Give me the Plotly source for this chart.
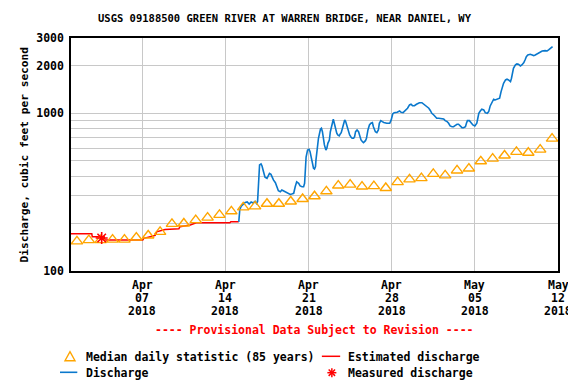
import pandas as pd
import plotly.graph_objects as go

START = pd.Timestamp("2018-04-01 00:00")

# ---- data ----
# Discharge, cubic feet per second; time in hours after 2018-04-01 00:00
discharge_hours = [339, 341, 344, 348, 352, 356, 360, 364, 368, 372, 375, 377, 379, 381, 384, 386, 389, 392, 396, 399,
                   401, 404, 406, 409, 413, 416, 419, 423, 426, 429, 433, 436, 439, 443, 446, 450, 453, 456, 460, 463,
                   467, 470, 472, 473, 475, 478, 481, 483, 485, 487, 490, 492, 494, 495, 498, 500, 504, 506, 508, 510,
                   512, 515, 517, 519, 522, 524, 526, 528, 530, 532, 535, 537, 539, 542, 544, 546, 549, 551, 553, 555,
                   558, 560, 563, 566, 568, 571, 573, 575, 578, 581, 584, 586, 589, 591, 595, 597, 600, 603, 606, 609,
                   611, 615, 618, 621, 623, 626, 629, 632, 638, 644, 647, 650, 653, 659, 664, 667, 671, 675, 680, 684,
                   687, 690, 694, 698, 701, 704, 709, 712, 716, 719, 723, 726, 729, 733, 736, 739, 743, 748, 753, 756,
                   760, 763, 766, 770, 773, 776, 780, 783, 787, 790, 793, 797, 799, 801, 805, 808, 812, 816, 818, 820,
                   822, 824, 827, 830, 834, 837, 841, 844, 847, 851, 854, 857, 861, 864, 866, 869, 871, 874, 878, 881,
                   884, 888, 890, 892, 894, 898, 901, 904, 908, 911, 915, 918, 920, 923, 928, 932, 935, 938, 942, 945,
                   948, 952, 958, 962, 965, 967, 970, 973]
discharge_cfs = [205, 244, 258, 266, 272, 274, 266, 274, 270, 276, 268, 276, 378, 470, 477, 463, 426, 393, 387, 406,
                 416, 410, 396, 378, 363, 342, 323, 318, 326, 323, 318, 316, 311, 306, 308, 311, 342, 368, 360, 346,
                 342, 342, 360, 437, 528, 585, 591, 571, 531, 493, 448, 443, 459, 506, 600, 694, 792, 803, 764, 677,
                 630, 585, 600, 645, 677, 764, 822, 898, 916, 864, 764, 747, 728, 718, 739, 753, 815, 885, 907, 885,
                 822, 776, 728, 704, 694, 694, 711, 764, 784, 764, 711, 677, 660, 651, 670, 694, 784, 843, 864, 872,
                 822, 764, 753, 784, 864, 898, 885, 874, 864, 864, 907, 990, 1009, 1015, 1034, 1015, 1009, 1039, 1076, 1129,
                 1140, 1117, 1117, 1140, 1157, 1167, 1167, 1146, 1129, 1101, 1076, 1042, 1000, 975, 952, 930, 930, 930, 920, 898,
                 885, 864, 831, 822, 822, 835, 852, 852, 831, 810, 810, 822, 864, 898, 898, 877, 843, 831, 843, 864,
                 930, 1000, 1034, 1060, 1049, 1009, 1000, 1024, 1113, 1197, 1227, 1215, 1227, 1227, 1245, 1371, 1462, 1550, 1626, 1643,
                 1626, 1586, 1667, 1793, 1929, 2025, 2054, 2045, 1995, 2025, 2094, 2200, 2285, 2342, 2366, 2342, 2318, 2342, 2377, 2423,
                 2458, 2483, 2495, 2483, 2520, 2546, 2583, 2644]

# Estimated discharge (ice affected)
estimated_hours = [0, 42, 43, 67, 68, 145, 147, 152, 160, 170, 173, 190, 218, 220, 241, 253, 321, 323, 339]
estimated_cfs = [172, 172, 165, 165, 157, 157, 161, 162, 165, 168, 177, 183, 185, 191, 196, 202, 202, 205, 205]

# Median daily statistic (85 years), one per day Apr 1 .. May 11 (plotted at noon)
median_dates = pd.date_range("2018-04-01 12:00", "2018-05-11 12:00", freq="D")
median_cfs = [154, 157, 157, 158, 158, 163, 168, 177, 199, 200, 210, 218, 227, 239, 253, 257, 267, 267, 276, 286,
              298, 320, 348, 353, 343, 345, 336, 366, 381, 388, 413, 404, 434, 446, 496, 516, 540, 569, 562, 588, 691]

# Measured discharge
measured_time = ["2018-04-03 14:00"]
measured_cfs = [162]

# Axis ticks
x_tick_dates = ["2018-04-07", "2018-04-14", "2018-04-21", "2018-04-28", "2018-05-05", "2018-05-12"]
x_tick_month = ["Apr", "Apr", "Apr", "Apr", "May", "May"]
x_tick_day = ["07", "14", "21", "28", "05", "12"]
x_tick_year = ["2018"] * 6
y_tick_vals = [100, 200, 300, 400, 500, 600, 700, 800, 900, 1000, 2000, 3000]
y_tick_text = ["100", "", "", "", "", "", "", "", "", "1000", "2000", "3000"]

TITLE = "USGS 09188500 GREEN RIVER AT WARREN BRIDGE, NEAR DANIEL, WY"

# ---- styling ----
FONT = "DejaVu Sans Mono"
BLUE = "#0a78cc"
ORANGE = "#ffa500"
RED = "#ff0000"

# the page body adds an 8 px margin; lay the figure out so the window matches
OFF = 8
WIN_W, WIN_H = 576, 384
W, H = WIN_W - OFF, WIN_H - OFF
L, R, T, B = 71, 557.7, 38, 271   # plot box, window pixels


def px(x):
    return (x - L) / (R - L)


def py(y):
    return (B - y) / (B - T)


disc_t = START + pd.to_timedelta(discharge_hours, unit="h")
est_t = START + pd.to_timedelta(estimated_hours, unit="h")

fig = go.Figure()
fig.add_trace(go.Scatter(x=est_t, y=estimated_cfs, mode="lines",
                         line=dict(color=RED, width=1.5), showlegend=False))
fig.add_trace(go.Scatter(x=disc_t, y=discharge_cfs, mode="lines",
                         line=dict(color=BLUE, width=1.6), showlegend=False))
fig.add_trace(go.Scatter(x=median_dates, y=median_cfs, mode="markers",
                         marker=dict(symbol="triangle-up-open", size=10, color=ORANGE,
                                     line=dict(color=ORANGE, width=1.4)),
                         showlegend=False))
fig.add_trace(go.Scatter(x=pd.to_datetime(measured_time), y=measured_cfs, mode="markers",
                         marker=dict(symbol="asterisk-open", size=10, color=RED,
                                     line=dict(color=RED, width=1.6)),
                         showlegend=False))

annotations = []
for d, m, dd, yy in zip(x_tick_dates, x_tick_month, x_tick_day, x_tick_year):
    for txt, ypix in ((m, 285), (dd, 297.7), (yy, 311)):
        annotations.append(dict(x=d, xref="x", y=py(ypix), yref="paper", text=txt, showarrow=False,
                                xanchor="center", yanchor="middle",
                                font=dict(family=FONT, size=11.5, color="black", weight="bold")))

annotations.append(dict(x=px(285), xref="paper", y=py(18), yref="paper", text=TITLE, showarrow=False,
                        xanchor="center", yanchor="middle",
                        font=dict(family=FONT, size=10.5, color="black", weight="bold")))
annotations.append(dict(x=px(25), xref="paper", y=py(154.5), yref="paper",
                        text="Discharge, cubic feet per second", textangle=-90, showarrow=False,
                        xanchor="center", yanchor="middle",
                        font=dict(family=FONT, size=11.2, color="black", weight="bold")))
annotations.append(dict(x=px(314), xref="paper", y=py(330), yref="paper",
                        text="---- Provisional Data Subject to Revision ----", showarrow=False,
                        xanchor="center", yanchor="middle",
                        font=dict(family=FONT, size=11.5, color=RED, weight="bold")))
for txt, xpix, ypix in (("Median daily statistic (85 years)", 84, 356.7),
                        ("Estimated discharge", 345.7, 356.7),
                        ("Discharge", 84, 372.7),
                        ("Measured discharge", 345.7, 372.7)):
    annotations.append(dict(x=px(xpix), xref="paper", y=py(ypix), yref="paper", text=txt,
                            showarrow=False, xanchor="left", yanchor="middle",
                            font=dict(family=FONT, size=11.5, color="black", weight="bold")))

shapes = []
shapes.append(dict(type="line", xref="paper", yref="paper", x0=px(321.7), x1=px(340),
                   y0=py(356.3), y1=py(356.3), line=dict(color=RED, width=1.5)))
shapes.append(dict(type="line", xref="paper", yref="paper", x0=px(60), x1=px(77.3),
                   y0=py(372.3), y1=py(372.3), line=dict(color=BLUE, width=1.6)))
tri = "M {},{} L {},{} L {},{} Z".format(px(65), py(360.7), px(75), py(360.7), px(70), py(351.7))
shapes.append(dict(type="path", xref="paper", yref="paper", path=tri,
                   line=dict(color=ORANGE, width=1.4)))
cx, cy, r, rd = 331.7, 372.7, 4.5, 3.2
for dx, dy in ((0, r), (r, 0), (rd, rd), (rd, -rd)):
    shapes.append(dict(type="line", xref="paper", yref="paper",
                       x0=px(cx - dx), x1=px(cx + dx), y0=py(cy - dy), y1=py(cy + dy),
                       line=dict(color=RED, width=1.5)))

fig.update_layout(
    width=W, height=H,
    margin=dict(l=L - OFF, r=WIN_W - R, t=T - OFF, b=WIN_H - B, pad=0),
    paper_bgcolor="white", plot_bgcolor="white",
    showlegend=False,
    annotations=annotations,
    shapes=shapes,
    xaxis=dict(type="date", range=["2018-04-01", "2018-05-12"],
               tickvals=x_tick_dates, showticklabels=False, ticks="",
               showgrid=True, gridcolor="#c8c8c8", gridwidth=1.3,
               showline=True, linecolor="black", linewidth=1.5, mirror=True, zeroline=False),
    yaxis=dict(type="log", range=[2, 3.4771],
               tickvals=y_tick_vals, ticktext=y_tick_text, ticks="",
               tickfont=dict(family=FONT, size=11.5, color="black", weight="bold"),
               ticklabelstandoff=3,
               showgrid=True, gridcolor="#c8c8c8", gridwidth=1.3,
               showline=True, linecolor="black", linewidth=1.5, mirror=True, zeroline=False),
)

fig.write_html("out.html")
